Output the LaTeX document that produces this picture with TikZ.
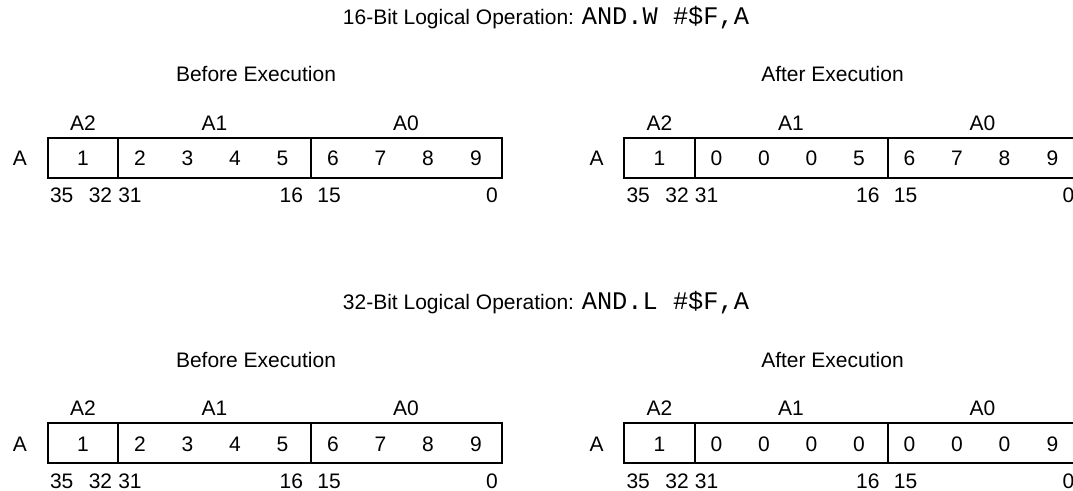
\documentclass[tikz,border=0pt]{standalone}
\usepackage{fontspec}
\setmainfont{Liberation Sans}
\setmonofont{Liberation Mono}

\begin{document}
\begin{tikzpicture}[x=0.75pt, y=-0.75pt, line join=miter,
    txt/.style={font=\fontsize{15.75}{18}\selectfont, inner sep=0pt, anchor=base},
    regbox/.style={line width=1.5pt}]

  \useasboundingbox (0,0) rectangle (1073,491);

  \def\bw{454.5}  % register width
  \def\bh{40}     % register height
  \def\da{70.5}   % A2 | A1
  \def\db{263.5}  % A1 | A0

  \node[txt] (t16) at (546,25) {16-Bit Logical Operation: \texttt{\fontsize{19}{20}\selectfont AND.W \#\$F,A}};
  \node[txt] (t32) at (546,310) {32-Bit Logical Operation: \texttt{\fontsize{19}{20}\selectfont AND.L \#\$F,A}};

  \foreach \ox/\oy/\nm/\when/\vals in {
      47.5/138/b16/Before/{1,2,3,4,5,6,7,8,9},
      624/138/a16/After/{1,0,0,0,5,6,7,8,9},
      47.5/423/b32/Before/{1,2,3,4,5,6,7,8,9},
      624/423/a32/After/{1,0,0,0,0,0,0,0,9}} {
    \begin{scope}[shift={(\ox,\oy)}]
      \node[txt] (\nm-cap) at (208.5,-56) {\when\ Execution};
      \draw[regbox] (0,0) rectangle (\bw,\bh);
      \draw[regbox] (\da,0) -- (\da,\bh) (\db,0) -- (\db,\bh);
      \node[txt] (\nm-reg) at (-27.5,28) {A};
      \foreach \p/\lab in {35.5/A2,167/A1,358.5/A0}
        \node[txt] (\nm-\lab) at (\p,-7.5) {\lab};
      \foreach \val [count=\i] in \vals {
        \pgfmathsetmacro\px{{35.5,92.5,140,187.5,235,285.5,333,380.5,428.5}[\i-1]}
        \node[txt] (\nm-v\i) at (\px,28) {\val};
      }
      \foreach \p/\bit in {14.2/35,53/32,82.5/31,243.8/16,281.5/15,444.5/0}
        \node[txt] (\nm-bit\bit) at (\p,65) {\bit};
    \end{scope}
  }
\end{tikzpicture}
\end{document}
